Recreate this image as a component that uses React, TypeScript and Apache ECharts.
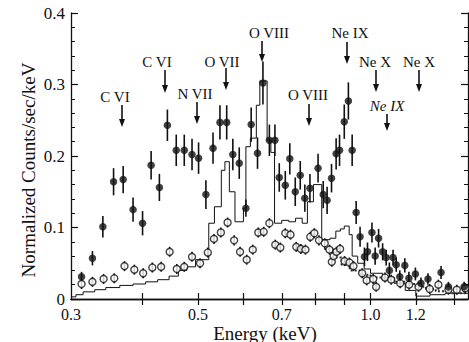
import React, { useEffect, useRef } from "react";
import * as echarts from "echarts";

// ---- data ----
const FILLED_E = [0.313,0.327,0.341,0.356,0.370,0.385,0.400,0.414,0.428,0.442,0.458,0.473,0.488,0.501,0.516,0.531,0.546,0.561,0.575,0.590,0.606,0.619,0.635,0.649,0.666,0.681,0.693,0.710,0.723,0.739,0.754,0.768,0.784,0.810,0.827,0.840,0.855,0.871,0.883,0.900,0.915,0.929,0.944,0.959,0.976,0.988,1.006,1.019,1.033,1.050,1.065,1.079,1.095,1.109,1.125,1.148,1.167,1.198,1.225,1.260,1.328,1.368,1.457];
const FILLED_V = [0.031,0.057,0.101,0.164,0.167,0.125,0.106,0.187,0.156,0.243,0.208,0.208,0.202,0.197,0.146,0.211,0.247,0.247,0.202,0.190,0.127,0.244,0.204,0.302,0.222,0.222,0.170,0.159,0.196,0.150,0.173,0.141,0.155,0.183,0.146,0.138,0.169,0.203,0.208,0.248,0.277,0.208,0.121,0.087,0.059,0.066,0.093,0.060,0.085,0.066,0.058,0.040,0.058,0.048,0.031,0.047,0.029,0.035,0.022,0.028,0.037,0.017,0.017];
const FILLED_ERR = [0.007,0.010,0.015,0.019,0.019,0.017,0.017,0.020,0.019,0.022,0.022,0.022,0.022,0.022,0.020,0.022,0.024,0.024,0.022,0.022,0.012,0.024,0.022,0.030,0.022,0.022,0.020,0.020,0.022,0.020,0.020,0.019,0.020,0.020,0.019,0.019,0.020,0.022,0.022,0.024,0.026,0.022,0.016,0.014,0.013,0.013,0.014,0.012,0.013,0.012,0.011,0.011,0.011,0.010,0.009,0.010,0.009,0.009,0.008,0.008,0.009,0.007,0.007];

const OPEN_E = [0.313,0.327,0.342,0.357,0.372,0.387,0.401,0.416,0.431,0.446,0.459,0.473,0.488,0.504,0.520,0.533,0.548,0.563,0.578,0.592,0.608,0.623,0.637,0.651,0.666,0.682,0.696,0.710,0.725,0.742,0.756,0.770,0.785,0.798,0.813,0.832,0.848,0.856,0.862,0.872,0.885,0.901,0.919,0.934,0.967,0.985,1.011,1.023,1.060,1.087,1.127,1.168,1.213,1.269,1.314,1.368,1.415,1.463];
const OPEN_V = [0.021,0.024,0.028,0.029,0.046,0.041,0.036,0.044,0.045,0.066,0.042,0.045,0.059,0.050,0.065,0.084,0.093,0.107,0.082,0.066,0.055,0.069,0.093,0.094,0.106,0.076,0.072,0.092,0.090,0.073,0.070,0.069,0.087,0.092,0.082,0.078,0.069,0.052,0.060,0.066,0.070,0.053,0.051,0.046,0.036,0.026,0.028,0.017,0.030,0.027,0.022,0.020,0.017,0.014,0.020,0.013,0.013,0.015];
const OPEN_ERR = 0.007;

const MODEL_EDGES = [0.300,0.306,0.315,0.330,0.345,0.365,0.385,0.405,0.425,0.445,0.462,0.478,0.495,0.522,0.534,0.549,0.557,0.567,0.580,0.600,0.606,0.617,0.632,0.641,0.660,0.670,0.680,0.700,0.720,0.740,0.760,0.776,0.795,0.822,0.850,0.870,0.886,0.900,0.918,0.929,0.950,0.975,1.000,1.050,1.100,1.150,1.200,1.270,1.350,1.480];
const MODEL_V = [0.003,0.006,0.010,0.013,0.016,0.019,0.021,0.024,0.027,0.032,0.040,0.045,0.055,0.106,0.129,0.180,0.192,0.150,0.108,0.127,0.213,0.225,0.271,0.305,0.222,0.205,0.106,0.110,0.108,0.113,0.106,0.136,0.160,0.083,0.085,0.095,0.098,0.102,0.090,0.060,0.050,0.042,0.036,0.030,0.022,0.012,0.004,0.006,0.008];

const MODEL2_EDGES = [0.830,0.860,0.890,0.920,0.960,1.000,1.050,1.100,1.150,1.200,1.250,1.300,1.380,1.480];
const MODEL2_V = [0.070,0.058,0.048,0.040,0.034,0.030,0.027,0.024,0.021,0.017,0.014,0.011,0.008];

const X_TICKS = [0.4,0.5,0.6,0.7,0.8,0.9,1.0,1.2,1.4];
const X_LABELS = [0.3,0.5,0.7,1.0,1.2];

const LINE_LABELS = ["C VI","C VI","N VII","O VII","O VIII","O VIII","Ne IX","Ne X","Ne X","Ne IX"];

const FONT = "'Liberation Serif', 'DejaVu Serif', serif";

function stepData(edges: number[], vals: number[]) {
  const d: number[][] = [];
  for (let i = 0; i < vals.length; i++) d.push([edges[i], vals[i]]);
  d.push([edges[edges.length - 1], vals[vals.length - 1]]);
  return d;
}

function errRender(params: any, api: any) {
  const e = api.value(0), v = api.value(1), er = api.value(2);
  const p1 = api.coord([e, v + er]);
  const p2 = api.coord([e, Math.max(v - er, 0.0001)]);
  return {
    type: "line",
    shape: { x1: p1[0], y1: p1[1], x2: p2[0], y2: p2[1] },
    style: { stroke: "#111", lineWidth: 1.6 },
  };
}

// annotation layout (pixels): text centre, arrow x, arrow top, arrow tip
const ANN_LAYOUT = [
  [115, 97, 122, 105, 127],
  [157, 62, 165, 70, 93],
  [195, 94, 197, 102, 124],
  [222, 62, 226, 68, 90],
  [269, 33, 262, 41, 62],
  [308, 95, 309, 104, 126],
  [350, 33, 347, 42, 64],
  [375, 62, 376, 70, 92],
  [419, 62, 419, 70, 92],
  [387, 106, 387, 114, 131],
];

export default function App() {
  const ref = useRef<HTMLDivElement>(null);
  useEffect(() => {
    const chart = echarts.init(ref.current!, null, { renderer: "svg" });
    const graphics: any[] = [];
    LINE_LABELS.forEach((t, i) => {
      const [tx, ty, ax, a0, a1] = ANN_LAYOUT[i];
      graphics.push({
        type: "text", x: tx, y: ty,
        style: { text: t, font: (i === 9 ? "italic " : "") + "15px " + FONT, fill: "#111", textAlign: "center", textVerticalAlign: "middle" },
      });
      graphics.push({ type: "line", shape: { x1: ax, y1: a0, x2: ax, y2: a1 - 5 }, style: { stroke: "#111", lineWidth: 1.6 } });
      graphics.push({ type: "polygon", shape: { points: [[ax - 3, a1 - 8], [ax + 3, a1 - 8], [ax, a1]] }, style: { fill: "#111" } });
    });
    graphics.push({
      type: "text", x: 28, y: 170, rotation: Math.PI / 2,
      style: { text: "Normalized Counts/sec/keV", font: "19px " + FONT, fill: "#111", textAlign: "center", textVerticalAlign: "middle" },
    });
    graphics.push({
      type: "text", x: 265, y: 333,
      style: { text: "Energy (keV)", font: "19px " + FONT, fill: "#111", textAlign: "center", textVerticalAlign: "middle" },
    });

    const yAxisBase = {
      type: "value", min: 0, max: 0.4, interval: 0.1,
      axisLine: { show: true, lineStyle: { color: "#111", width: 1.3 } },
      axisTick: { show: true, inside: true, length: 7, lineStyle: { color: "#111", width: 1.2 } },
      minorTick: { show: true, splitNumber: 5, length: 4, lineStyle: { color: "#111", width: 1 } },
      splitLine: { show: false },
    };
    const xAxisBase = {
      type: "log", min: 0.3, max: 1.48, logBase: 10,
      axisLine: { show: true, lineStyle: { color: "#111", width: 1.3 } },
      axisTick: { show: true, inside: true, length: 6, customValues: X_TICKS, lineStyle: { color: "#111", width: 1.2 } },
      splitLine: { show: false },
      minorTick: { show: false },
    };

    chart.setOption({
      animation: false,
      grid: { left: 71, right: 1, top: 13, bottom: 43, show: false },
      xAxis: [
        {
          ...xAxisBase, position: "bottom",
          axisLabel: {
            show: true, customValues: X_LABELS, margin: 8, lineHeight: 14,
            formatter: (v: number) => Number(v).toFixed(1),
            fontFamily: FONT, fontSize: 16, color: "#111",
          },
        },
        { ...xAxisBase, position: "top", axisLabel: { show: false } },
      ],
      yAxis: [
        {
          ...yAxisBase, position: "left",
          axisLabel: {
            show: true, margin: 6, fontFamily: FONT, fontSize: 17, lineHeight: 14, color: "#111",
            formatter: (v: number) => (v === 0 ? "0" : v.toFixed(1)),
          },
        },
        { ...yAxisBase, position: "right", axisLabel: { show: false } },
      ],
      graphic: graphics,
      series: [
        {
          type: "line", step: "end", data: stepData(MODEL_EDGES, MODEL_V),
          showSymbol: false, symbol: "none",
          lineStyle: { color: "#111", width: 1 }, z: 2,
        },
        {
          type: "line", step: "end", data: stepData(MODEL2_EDGES, MODEL2_V),
          showSymbol: false, symbol: "none",
          lineStyle: { color: "#333", width: 2, type: [2, 2] }, z: 2,
        },
        {
          type: "custom", renderItem: errRender,
          data: OPEN_E.map((e, i) => [e, OPEN_V[i], OPEN_ERR]), z: 3,
        },
        {
          type: "custom", renderItem: errRender,
          data: FILLED_E.map((e, i) => [e, FILLED_V[i], FILLED_ERR[i]]), z: 3,
        },
        {
          type: "scatter", symbol: "circle", symbolSize: 7,
          data: OPEN_E.map((e, i) => [e, OPEN_V[i]]),
          itemStyle: { color: "#fff", borderColor: "#111", borderWidth: 1.4 }, z: 4,
        },
        {
          type: "scatter", symbol: "circle", symbolSize: 7.5,
          data: FILLED_E.map((e, i) => [e, FILLED_V[i]]),
          itemStyle: { color: "#111" }, z: 5,
        },
      ],
    });
    return () => chart.dispose();
  }, []);
  return <div ref={ref} style={{ position: "fixed", left: 0, top: 0, width: 469, height: 342, background: "#fff" }} />;
}
